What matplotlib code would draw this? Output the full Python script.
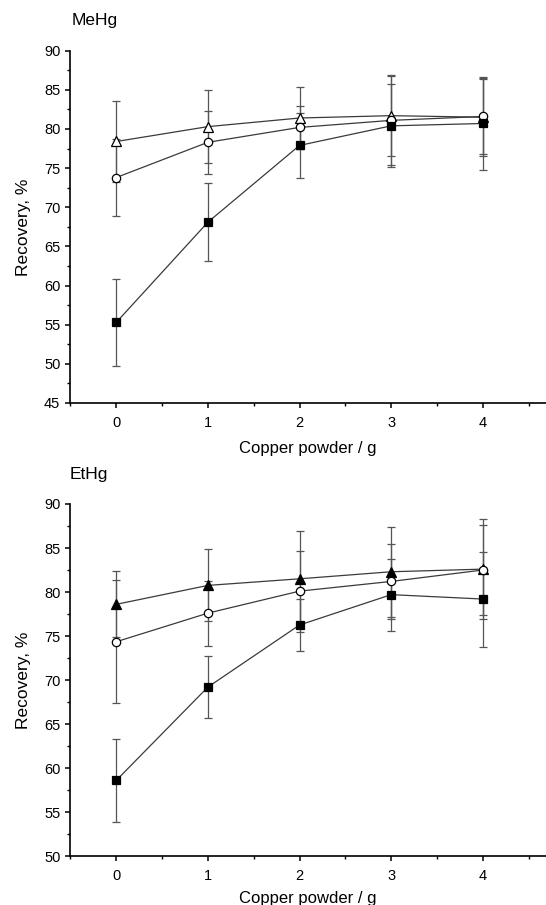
import matplotlib
matplotlib.use('Agg')
import matplotlib.pyplot as plt
from matplotlib.ticker import MultipleLocator

plt.rcParams['font.family'] = ['Liberation Sans', 'DejaVu Sans']

copper_g = [0, 1, 2, 3, 4]

# MeHg panel
me_square = [55.3, 68.1, 77.9, 80.4, 80.7]
me_square_err = [5.6, 5.0, 4.2, 5.3, 5.9]
me_circle = [73.8, 78.3, 80.2, 81.1, 81.6]
me_circle_err = [4.9, 4.0, 2.7, 5.7, 4.8]
me_triangle = [78.4, 80.3, 81.4, 81.7, 81.5]
me_triangle_err = [5.2, 4.7, 3.9, 5.2, 5.0]

# EtHg panel
et_square = [58.6, 69.2, 76.25, 79.7, 79.2]
et_square_err = [4.7, 3.5, 3.0, 4.1, 5.4]
et_circle = [74.35, 77.6, 80.1, 81.2, 82.5]
et_circle_err = [7.0, 3.7, 4.6, 4.3, 5.1]
et_triangle = [78.6, 80.75, 81.5, 82.3, 82.6]
et_triangle_err = [3.75, 4.1, 5.4, 5.1, 5.7]

LINE_C = '#3a3a3a'
ERR_C = '#555555'


def draw_series(ax, y, err, marker, face, ms):
    ax.errorbar(copper_g, y, yerr=err, fmt='none', ecolor=ERR_C,
                elinewidth=0.9, capsize=2.6, capthick=0.9, zorder=2)
    ax.plot(copper_g, y, '-', color=LINE_C, lw=0.9, zorder=3)
    ax.plot(copper_g, y, linestyle='none', marker=marker, ms=ms,
            mfc=face, mec='black', mew=0.9, zorder=4)


def style_axes(ax, ylo, yhi, xlabel_pad):
    ax.set_xlim(-0.5, 4.69)
    ax.set_ylim(ylo, yhi)
    for side in ('top', 'right'):
        ax.spines[side].set_visible(False)
    for side in ('left', 'bottom'):
        ax.spines[side].set_linewidth(1.2)
    ax.xaxis.set_major_locator(MultipleLocator(1))
    ax.xaxis.set_minor_locator(MultipleLocator(0.5))
    ax.yaxis.set_major_locator(MultipleLocator(5))
    ax.yaxis.set_minor_locator(MultipleLocator(2.5))
    ax.tick_params(which='major', direction='out', length=3.8, width=1.1,
                   labelsize=10.5, pad=3.5)
    ax.tick_params(axis='x', which='major', pad=5.5)
    ax.tick_params(which='minor', direction='out', length=2.5, width=1.0)
    ax.set_xlabel('Copper powder / g', fontsize=12, labelpad=xlabel_pad)
    ax.set_ylabel('Recovery, %', fontsize=12.5, labelpad=9)


fig = plt.figure(figsize=(5.46, 9.05), dpi=100)
ax1 = fig.add_axes([0.1291, 0.5547, 0.8709, 0.3893])
ax2 = fig.add_axes([0.1291, 0.0541, 0.8709, 0.3890])

draw_series(ax1, me_triangle, me_triangle_err, '^', 'white', 6.5)
draw_series(ax1, me_circle, me_circle_err, 'o', 'white', 6)
draw_series(ax1, me_square, me_square_err, 's', 'black', 5.8)
style_axes(ax1, 45, 90, 8)

draw_series(ax2, et_triangle, et_triangle_err, '^', 'black', 6.5)
draw_series(ax2, et_circle, et_circle_err, 'o', 'white', 6)
draw_series(ax2, et_square, et_square_err, 's', 'black', 5.8)
style_axes(ax2, 50, 90, 6)

fig.text(72 / 546, 1 - 20 / 905, 'MeHg', fontsize=12.5, ha='left', va='center')
fig.text(70 / 546, 1 - 474 / 905, 'EtHg', fontsize=12.5, ha='left', va='center')

fig.savefig('out.png', dpi=100, facecolor='white')
